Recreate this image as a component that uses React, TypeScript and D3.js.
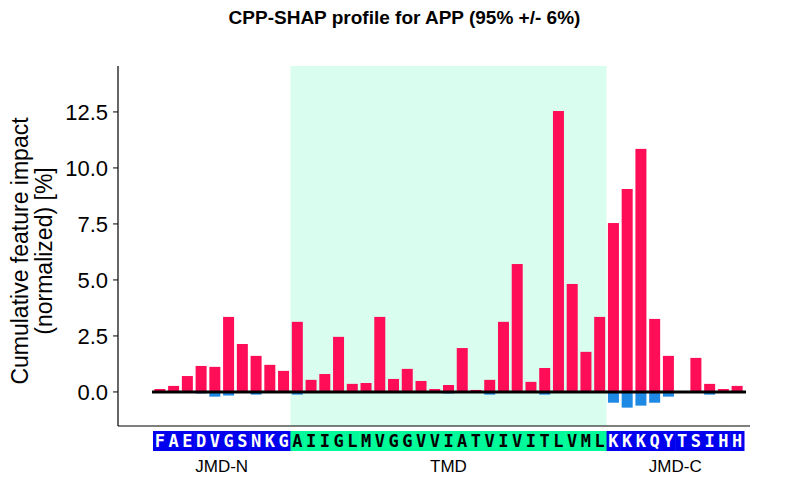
import React from 'react';
import * as d3 from 'd3';

const jmdN = 'FAEDVGSNKG'.split('');
const tmd = 'AIIGLMVGGVVIATVIVITLVML'.split('');
const jmdC = 'KKKQYTSIHH'.split('');

// positive / negative shap contributions per residue (%)
const posValues = [
  0.13, 0.27, 0.71, 1.16, 1.12, 3.35, 2.14, 1.61, 1.21, 0.94,
  3.13, 0.54, 0.8, 2.46, 0.36, 0.4, 3.35, 0.58, 1.03, 0.49, 0.13, 0.31, 1.96,
  0.09, 0.54, 3.13, 5.71, 0.45, 1.07, 12.54, 4.82, 1.79, 3.35,
  7.54, 9.06, 10.85, 3.26, 1.61, 0.04, 1.52, 0.36, 0.13, 0.27,
];
const negValues = [
  0, 0, 0, -0.07, -0.21, -0.16, 0, -0.12, 0, 0,
  -0.12, 0, 0, 0, 0, 0, 0, 0, 0, 0, 0, -0.07, -0.04,
  0, -0.12, 0, 0, 0, -0.12, 0, 0, 0, 0,
  -0.48, -0.7, -0.61, -0.48, -0.21, 0, 0, -0.12, 0, 0,
];
const yTicks = [0, 2.5, 5, 7.5, 10, 12.5];

const W = 787;
const H = 485;
const left = 118;
const top = 66;
const bottom = 426;
const right = 750;

export default function App() {
  const seq = [...jmdN, ...tmd, ...jmdC];
  const idx = seq.map((_, i) => i);
  const x = d3.scaleBand<number>().domain(idx).range([153, 744]).padding(0);
  const bw = x.bandwidth();
  const barW = bw * 0.8;
  const y = d3.scaleLinear().domain([-1.52, 14.55]).range([bottom, top]);
  const tmdStart = x(jmdN.length)!;
  const tmdEnd = x(jmdN.length + tmd.length)!;
  const font = 'Liberation Sans, Arial, sans-serif';

  return (
    <svg width={W} height={H} style={{ position: 'absolute', left: 0, top: 0 }}>
      <rect x={0} y={0} width={W} height={H} fill="#fff" />
      <text x={W / 2 + 11} y={24} textAnchor="middle" fontFamily={font} fontWeight="bold" fontSize={19}>
        CPP-SHAP profile for APP (95% +/- 6%)
      </text>

      <rect x={tmdStart} y={top} width={tmdEnd - tmdStart} height={bottom - top} fill="#d9feef" />

      {idx.map((i) => (
        <rect key={'p' + i} x={x(i)! + (bw - barW) / 2} y={y(posValues[i])}
          width={barW} height={y(0) - y(posValues[i])} fill="#ff0d57" />
      ))}
      {idx.map((i) => negValues[i] < 0 ? (
        <rect key={'n' + i} x={x(i)! + (bw - barW) / 2} y={y(0)}
          width={barW} height={y(negValues[i]) - y(0)} fill="#1e88e5" />
      ) : null)}
      <line x1={152} x2={746} y1={y(0)} y2={y(0)} stroke="#000" strokeWidth={3} />

      {/* axes */}
      <line x1={left} x2={left} y1={top} y2={bottom} stroke="#000" strokeWidth={1.2} />
      <line x1={left} x2={right} y1={bottom} y2={bottom} stroke="#000" strokeWidth={1.2} />
      {yTicks.map((t) => (
        <g key={t}>
          <line x1={left - 5} x2={left} y1={y(t)} y2={y(t)} stroke="#000" strokeWidth={1} />
          <text x={left - 10} y={y(t)} dy="0.35em" textAnchor="end" fontFamily={font} fontSize={22}>
            {t.toFixed(1)}
          </text>
        </g>
      ))}
      <text transform={`translate(28,251) rotate(-90)`} textAnchor="middle" fontFamily={font} fontSize={23}>
        Cumulative feature impact
      </text>
      <text transform={`translate(52,251) rotate(-90)`} textAnchor="middle" fontFamily={font} fontSize={23}>
        (normalized) [%]
      </text>

      {/* sequence */}
      {seq.map((aa, i) => {
        const inTmd = i >= jmdN.length && i < jmdN.length + tmd.length;
        return (
          <g key={'s' + i}>
            <rect x={x(i)!} y={431} width={bw + 0.5} height={20} fill={inTmd ? '#00fa9a' : '#0000ee'} />
            <text x={x(i)! + bw / 2} y={447} textAnchor="middle" fontFamily="DejaVu Sans Mono, monospace"
              fontWeight="bold" fontSize={17} fill={inTmd ? '#000' : '#fff'}>
              {aa}
            </text>
          </g>
        );
      })}
      <text x={(153 + tmdStart) / 2} y={472} textAnchor="middle" fontFamily={font} fontSize={17}>JMD-N</text>
      <text x={(tmdStart + tmdEnd) / 2} y={472} textAnchor="middle" fontFamily={font} fontSize={17}>TMD</text>
      <text x={(tmdEnd + 744) / 2} y={472} textAnchor="middle" fontFamily={font} fontSize={17}>JMD-C</text>
    </svg>
  );
}
